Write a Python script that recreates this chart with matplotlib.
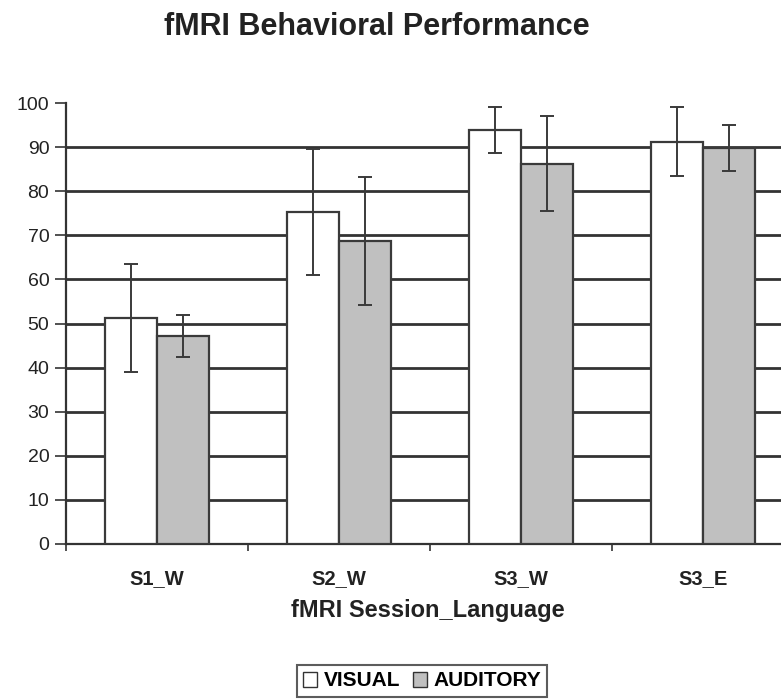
import numpy as np
import matplotlib.pyplot as plt
from matplotlib.patches import Patch

plt.rcParams['font.family'] = ['Liberation Sans', 'DejaVu Sans']

categories = ['S1_W', 'S2_W', 'S3_W', 'S3_E']
visual = [51.3, 75.3, 93.9, 91.2]
visual_err = [12.2, 14.2, 5.2, 7.8]
auditory = [47.2, 68.7, 86.2, 89.7]
auditory_err = [4.7, 14.5, 10.8, 5.2]
yticks = [0, 10, 20, 30, 40, 50, 60, 70, 80, 90, 100]

fig = plt.figure(figsize=(7.81, 7.0), dpi=100)
# axes runs past the right edge, like the cropped original
ax = fig.add_axes([66 / 781, 156 / 700, 728 / 781, 441 / 700])

x = np.arange(len(categories))
w = 0.286
bar_kw = dict(edgecolor='#3a3a3a', linewidth=1.6, zorder=3)
err_kw = dict(ecolor='#3a3a3a', elinewidth=1.4, capsize=5, capthick=1.4, zorder=4)

ax.bar(x - w / 2, visual, w, color='white', yerr=visual_err, error_kw=err_kw, **bar_kw)
ax.bar(x + w / 2, auditory, w, color='#c0c0c0', yerr=auditory_err, error_kw=err_kw, **bar_kw)

ax.set_xlim(-0.5, 3.5)
ax.set_ylim(0, 100)
ax.set_yticks(yticks)
ax.set_yticklabels([str(t) for t in yticks], fontsize=14, color='#222222')
ax.yaxis.grid(True, color='#333333', linewidth=2, zorder=0)
ax.set_axisbelow(True)
fig.canvas.draw()
ax.get_ygridlines()[-1].set_visible(False)

ax.set_xticks(np.arange(-0.5, 4, 1))
ax.set_xticklabels([''] * 5)
ax.set_xticks(x, minor=True)
ax.set_xticklabels(categories, minor=True, fontsize=14.5, fontweight='bold', color='#222222')
ax.tick_params(axis='x', which='minor', length=0, pad=18)
ax.tick_params(axis='x', which='major', length=5, width=1.2, color='#333333')
ax.tick_params(axis='y', length=8, width=1.2, color='#333333', pad=4)

for s in ['top', 'right']:
    ax.spines[s].set_visible(False)
for s in ['left', 'bottom']:
    ax.spines[s].set_color('#333333')
    ax.spines[s].set_linewidth(1.6)

ax.set_xlabel('fMRI Session_Language', fontsize=17, fontweight='bold', color='#222222')
ax.xaxis.set_label_coords(0.497, -0.125)

fig.text(377 / 781, 1 - 27 / 700, 'fMRI Behavioral Performance', fontsize=22, fontweight='bold',
         ha='center', va='center', color='#222222')

handles = [Patch(facecolor='white', edgecolor='#333333', label='VISUAL'),
           Patch(facecolor='#c0c0c0', edgecolor='#333333', label='AUDITORY')]
leg = fig.legend(handles=handles, loc='center', bbox_to_anchor=(422 / 781, 1 - 681 / 700), ncol=2,
                 fontsize=15, frameon=True, fancybox=False, edgecolor='#333333',
                 handlelength=0.7, handleheight=0.7, handletextpad=0.3, columnspacing=0.6,
                 borderpad=0.3)
leg.get_frame().set_linewidth(1.5)
for t in leg.get_texts():
    t.set_fontweight('bold')

fig.savefig('out.png', dpi=100)
